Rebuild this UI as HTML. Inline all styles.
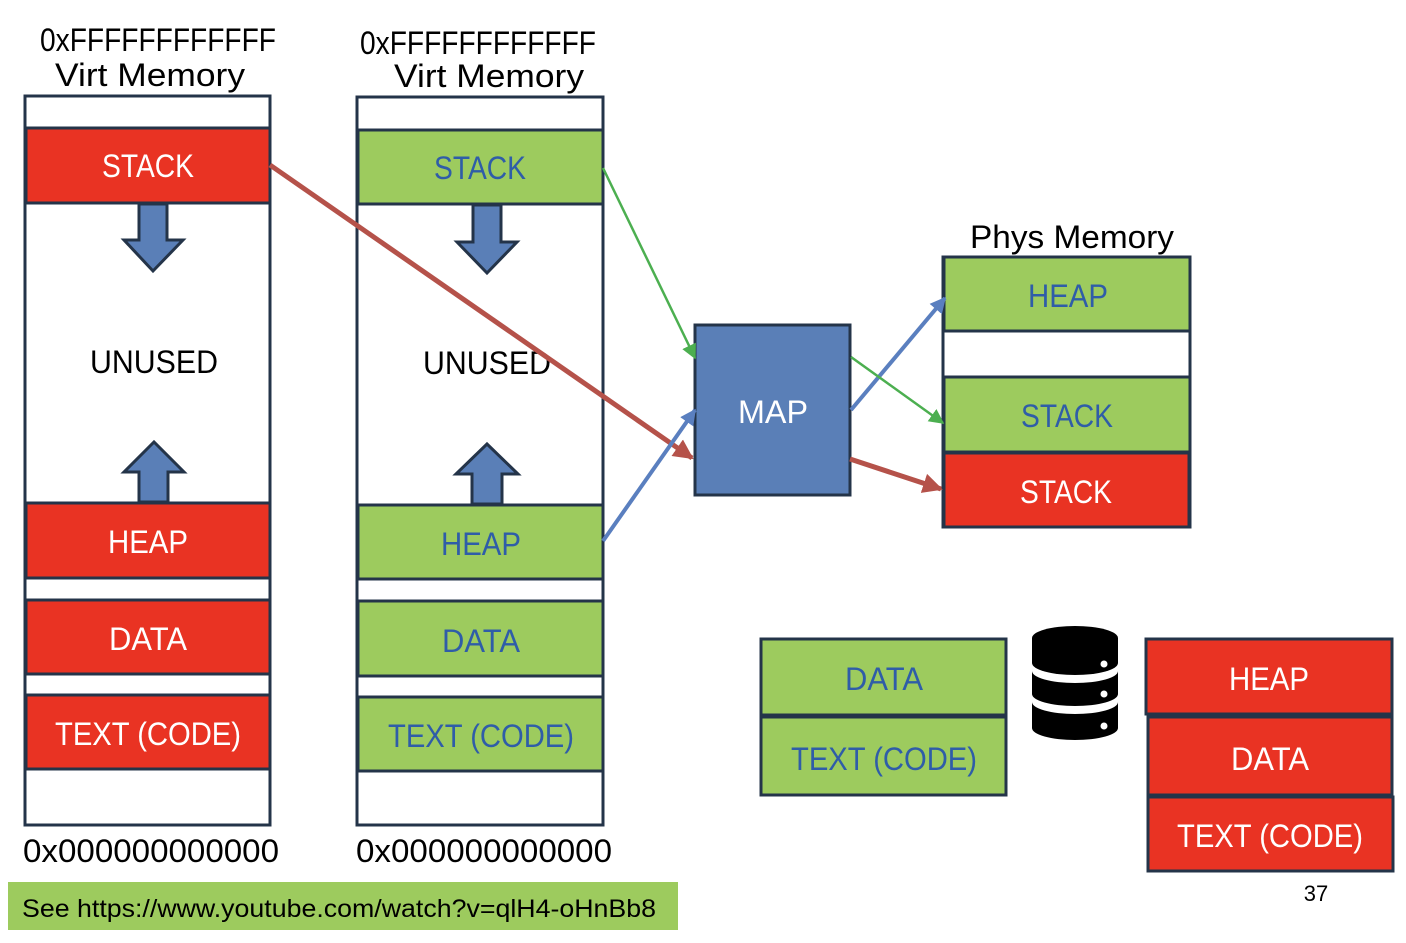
<!DOCTYPE html>
<html><head><meta charset="utf-8"><style>
html,body{margin:0;padding:0;background:#fff;}
svg text{font-family:"Liberation Sans",sans-serif;}
</style></head><body>
<svg width="1406" height="938" viewBox="0 0 1406 938" xmlns="http://www.w3.org/2000/svg">
<defs>
<marker id="ar" viewBox="0 0 10 10" refX="9" refY="5" markerWidth="4" markerHeight="4" orient="auto" markerUnits="strokeWidth"><path d="M0,0L10,5L0,10z" fill="#B5524A"/></marker>
<marker id="ag" viewBox="0 0 10 10" refX="9" refY="5" markerWidth="6" markerHeight="6" orient="auto" markerUnits="strokeWidth"><path d="M0,0L10,5L0,10z" fill="#4CAF50"/></marker>
<marker id="ab" viewBox="0 0 10 10" refX="9" refY="5" markerWidth="4" markerHeight="4" orient="auto" markerUnits="strokeWidth"><path d="M0,0L10,5L0,10z" fill="#5A7FBF"/></marker>
</defs>
<g font-size="32" fill="#000">
<text x="158" y="51" text-anchor="middle" textLength="236" lengthAdjust="spacingAndGlyphs">0xFFFFFFFFFFFF</text>
<text x="150" y="86" text-anchor="middle" textLength="190" lengthAdjust="spacingAndGlyphs">Virt Memory</text>
<text x="478" y="54" text-anchor="middle" textLength="236" lengthAdjust="spacingAndGlyphs">0xFFFFFFFFFFFF</text>
<text x="489" y="87" text-anchor="middle" textLength="190" lengthAdjust="spacingAndGlyphs">Virt Memory</text>
<text x="1072" y="248" text-anchor="middle" textLength="204" lengthAdjust="spacingAndGlyphs">Phys Memory</text>
<text x="151" y="862" text-anchor="middle" textLength="256" lengthAdjust="spacingAndGlyphs">0x000000000000</text>
<text x="484" y="862" text-anchor="middle" textLength="256" lengthAdjust="spacingAndGlyphs">0x000000000000</text>
</g>
<g stroke="#243449" stroke-width="3">
<rect x="25" y="96" width="245" height="729" fill="#fff"/>
<rect x="357" y="97" width="246" height="728" fill="#fff"/>
<rect x="26" y="128" width="244" height="75" fill="#E93323"/>
<rect x="26" y="503" width="244" height="75" fill="#E93323"/>
<rect x="26" y="600" width="244" height="74" fill="#E93323"/>
<rect x="26" y="695" width="244" height="74" fill="#E93323"/>
<rect x="358" y="130" width="245" height="74" fill="#9DCB5E"/>
<rect x="358" y="505" width="245" height="74" fill="#9DCB5E"/>
<rect x="358" y="601" width="245" height="75" fill="#9DCB5E"/>
<rect x="358" y="697" width="245" height="74" fill="#9DCB5E"/>
<rect x="695" y="325" width="155" height="170" fill="#5A7FB7"/>
<rect x="943" y="257" width="247" height="270" fill="#fff"/>
<rect x="944" y="257" width="246" height="74" fill="#9DCB5E"/>
<rect x="944" y="377" width="246" height="75" fill="#9DCB5E"/>
<rect x="944" y="453" width="245" height="74" fill="#E93323"/>
<rect x="761" y="639" width="245" height="76" fill="#9DCB5E"/>
<rect x="761" y="717" width="245" height="78" fill="#9DCB5E"/>
<rect x="1146" y="639" width="246" height="75" fill="#E93323"/>
<rect x="1148" y="717" width="244" height="78" fill="#E93323"/>
<rect x="1148" y="797" width="245" height="74" fill="#E93323"/>
<path d="M139,204V240H124L153,271L183,240H167V204Z" fill="#5A7FB7"/>
<path d="M139,502V472H124L154,442L184,472H168V502Z" fill="#5A7FB7"/>
<path d="M473,205V242H457L487,273L517,242H501V205Z" fill="#5A7FB7"/>
<path d="M472,504V474H456L487,444L518,474H502V504Z" fill="#5A7FB7"/>
</g>
<rect x="8" y="882" width="670" height="48" fill="#9DCB5E"/>
<text x="22" y="917" font-size="25" textLength="634" lengthAdjust="spacingAndGlyphs">See https://www.youtube.com/watch?v=qlH4-oHnBb8</text>
<text x="1316" y="901" font-size="22" text-anchor="middle">37</text>
<g font-size="32" text-anchor="middle">
<text x="148" y="177" fill="#fff" textLength="92" lengthAdjust="spacingAndGlyphs">STACK</text>
<text x="154" y="373" fill="#000" textLength="128" lengthAdjust="spacingAndGlyphs">UNUSED</text>
<text x="148" y="553" fill="#fff" textLength="80" lengthAdjust="spacingAndGlyphs">HEAP</text>
<text x="148" y="650" fill="#fff" textLength="78" lengthAdjust="spacingAndGlyphs">DATA</text>
<text x="148" y="745" fill="#fff" textLength="186" lengthAdjust="spacingAndGlyphs">TEXT (CODE)</text>
<text x="480" y="179" fill="#2F5DA8" textLength="92" lengthAdjust="spacingAndGlyphs">STACK</text>
<text x="487" y="374" fill="#000" textLength="128" lengthAdjust="spacingAndGlyphs">UNUSED</text>
<text x="481" y="555" fill="#2F5DA8" textLength="80" lengthAdjust="spacingAndGlyphs">HEAP</text>
<text x="481" y="652" fill="#2F5DA8" textLength="78" lengthAdjust="spacingAndGlyphs">DATA</text>
<text x="481" y="747" fill="#2F5DA8" textLength="186" lengthAdjust="spacingAndGlyphs">TEXT (CODE)</text>
<text x="773" y="423" fill="#fff" textLength="70" lengthAdjust="spacingAndGlyphs">MAP</text>
<text x="1068" y="307" fill="#2F5DA8" textLength="80" lengthAdjust="spacingAndGlyphs">HEAP</text>
<text x="1067" y="427" fill="#2F5DA8" textLength="92" lengthAdjust="spacingAndGlyphs">STACK</text>
<text x="1066" y="503" fill="#fff" textLength="92" lengthAdjust="spacingAndGlyphs">STACK</text>
<text x="884" y="690" fill="#2F5DA8" textLength="78" lengthAdjust="spacingAndGlyphs">DATA</text>
<text x="884" y="770" fill="#2F5DA8" textLength="186" lengthAdjust="spacingAndGlyphs">TEXT (CODE)</text>
<text x="1269" y="690" fill="#fff" textLength="80" lengthAdjust="spacingAndGlyphs">HEAP</text>
<text x="1270" y="770" fill="#fff" textLength="78" lengthAdjust="spacingAndGlyphs">DATA</text>
<text x="1270" y="847" fill="#fff" textLength="186" lengthAdjust="spacingAndGlyphs">TEXT (CODE)</text>
</g>
<line x1="270" y1="165" x2="692" y2="458" stroke="#B5524A" stroke-width="5" marker-end="url(#ar)"/>
<line x1="603" y1="168" x2="695" y2="358" stroke="#4CAF50" stroke-width="2.5" marker-end="url(#ag)"/>
<line x1="603" y1="541" x2="695" y2="410" stroke="#5A7FBF" stroke-width="4" marker-end="url(#ab)"/>
<line x1="851" y1="410" x2="945" y2="298" stroke="#5A7FBF" stroke-width="4" marker-end="url(#ab)"/>
<line x1="851" y1="357" x2="943" y2="423" stroke="#4CAF50" stroke-width="2.5" marker-end="url(#ag)"/>
<line x1="850" y1="459" x2="941" y2="489" stroke="#B5524A" stroke-width="5" marker-end="url(#ar)"/>
<g fill="#000">
<path d="M1032,638 A43,12 0 0 1 1118,638 V663 A43,12 0 0 1 1032,663 Z"/>
<path d="M1032,671 A43,12 0 0 0 1118,671 V694 A43,12 0 0 1 1032,694 Z"/>
<path d="M1032,702 A43,12 0 0 0 1118,702 V728 A43,12 0 0 1 1032,728 Z"/>
</g>
<g fill="#fff"><circle cx="1104" cy="664" r="3.5"/><circle cx="1104" cy="694" r="3.5"/><circle cx="1104" cy="726" r="3.5"/></g>
</svg>
</body></html>
